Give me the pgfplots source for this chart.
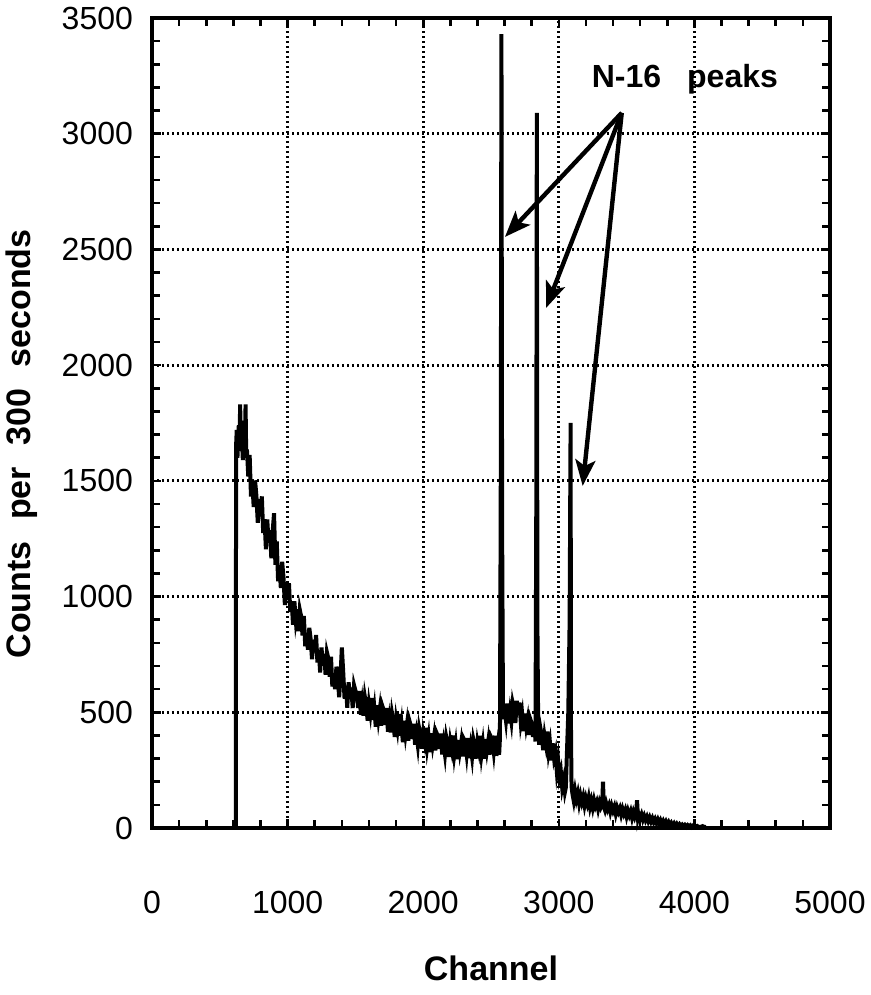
\documentclass[border=0pt]{standalone}
\usepackage{pgfplots}
\pgfplotsset{compat=1.18}
\usepackage{pgfplotstable}
\usepackage{fontspec}
\setmainfont{Liberation Sans}
\usetikzlibrary{arrows.meta}
\pgfplotstableread{
x y
618 0
620 1650
625 1720
630 1600
640 1740
645 1630
650 1830
655 1660
660 1720
670 1590
680 1760
685 1640
690 1830
695 1600
700 1636
710 1519
720 1612
730 1432
740 1490
750 1387
760 1502
770 1435
780 1319
790 1420
800 1346
810 1433
820 1275
830 1334
840 1204
850 1333
860 1233
870 1287
880 1166
890 1283
900 1360
910 1137
920 1238
930 1066
940 1132
950 1037
960 1150
970 1081
980 963
990 1062
1000 986
1010 1058
1020 933
1030 980
1040 878
1050 980
1060 901
1070 945
1080 850
1090 943
1100 914
1110 832
1120 916
1130 785
1140 841
1150 770
1160 865
1170 817
1180 729
1190 813
1200 759
1210 834
1220 715
1230 768
1240 672
1250 780
1260 705
1270 753
1280 662
1290 759
1300 734
1310 654
1320 740
1330 611
1340 669
1350 600
1360 697
1370 651
1380 565
1390 651
1400 780
1410 676
1420 559
1430 614
1440 520
1450 630
1460 557
1470 607
1480 518
1490 617
1500 594
1510 582
1520 519
1530 592
1540 489
1550 539
1560 485
1570 567
1580 532
1590 464
1600 537
1610 497
1620 562
1630 467
1640 514
1650 438
1660 530
1670 471
1680 514
1690 442
1700 525
1710 507
1720 445
1730 518
1740 416
1750 466
1760 413
1770 495
1780 461
1790 393
1800 467
1810 428
1820 493
1830 399
1840 446
1850 371
1860 463
1870 405
1880 448
1890 377
1900 460
1910 439
1920 385
1930 450
1940 360
1950 405
1960 359
1970 432
1980 402
1990 343
2000 409
2010 375
2020 433
2030 351
2040 393
2050 327
2060 409
2070 359
2080 397
2090 335
2100 409
2110 395
2120 342
2130 408
2140 318
2150 365
2160 320
2170 394
2180 365
2190 307
2200 374
2210 341
2220 400
2230 319
2240 362
2250 297
2260 380
2270 331
2280 370
2290 309
2300 384
2310 372
2320 321
2330 389
2340 302
2350 350
2360 307
2370 383
2380 356
2390 300
2400 369
2410 337
2420 398
2430 318
2440 363
2450 299
2460 384
2470 336
2480 377
2490 317
2500 394
2510 382
2520 331
2530 399
2540 312
2550 360
2560 317
2566 390
2572 1500
2577 3430
2582 1300
2588 540
2595 470
2600 512
2610 465
2620 538
2630 452
2640 503
2650 461
2660 540
2670 512
2680 454
2690 550
2700 487
2710 542
2720 454
2730 490
2740 418
2750 494
2760 438
2770 470
2780 402
2790 470
2800 452
2810 394
2820 456
2828 374
2834 1400
2838 3090
2842 900
2848 430
2855 360
2865 430
2875 397
2885 336
2895 399
2905 362
2915 417
2925 330
2935 366
2945 292
2955 366
2965 303
2975 328
2985 248
2995 292
3005 220
3015 245
3025 175
3035 205
3045 155
3052 175
3058 290
3070 500
3080 900
3087 1750
3090 400
3094 180
3100 150
3110 118
3120 160
3130 125
3140 150
3150 108
3160 140
3170 112
3180 135
3190 98
3200 128
3210 105
3220 132
3230 92
3240 118
3250 88
3260 120
3270 95
3280 112
3290 82
3300 110
3310 90
3320 104
3326 200
3332 92
3340 78
3350 105
3360 82
3370 98
3380 70
3390 95
3400 75
3410 92
3420 62
3430 88
3440 70
3450 85
3460 58
3470 82
3480 62
3490 78
3500 50
3510 74
3520 55
3530 72
3540 44
3550 68
3560 48
3570 66
3577 120
3584 45
3590 60
3600 42
3610 58
3620 36
3630 52
3640 34
3650 48
3660 30
3670 45
3680 28
3690 42
3700 25
3710 38
3720 22
3730 36
3740 20
3750 33
3760 18
3770 30
3780 16
3790 28
3800 14
3810 25
3820 12
3830 22
3840 11
3850 20
3860 9
3870 18
3880 8
3890 16
3900 7
3910 14
3920 6
3930 13
3940 5
3950 12
3960 5
3970 11
3980 4
3990 10
4000 4
4020 9
4040 3
4060 8
4080 3
4090 6
}\spectrum
\begin{document}
\begin{tikzpicture}
\path[use as bounding box] (-76pt,-83.5pt) rectangle (359.5pt,414pt);
\begin{axis}[
  at={(0pt,0pt)}, anchor=south west,
  scale only axis, width=339pt, height=405pt,
  xmin=0, xmax=5000, ymin=0, ymax=3500,
  xtick={0,1000,...,5000}, ytick={0,500,...,3500},
  minor x tick num=4, minor y tick num=4,
  tick align=inside, tick pos=both,
  major tick length=4.5pt, minor tick length=4pt,
  every tick/.style={black, line width=1.3pt},
  axis line style={black, line width=1.7pt},
  grid=major,
  major grid style={black, line width=1.4pt, dash pattern=on 1.2pt off 1.3pt},
  /pgf/number format/assume math mode=true,
  /pgf/number format/1000 sep={},
  tick label style={font=\fontsize{16}{19}\selectfont, black},
  yticklabel style={xshift=-6pt},
  xticklabel style={yshift=-28pt},
  clip=false,
]
\addplot[black, line width=2pt, mark=none] table[x=x, y=y] {\spectrum};
\draw[black, line width=2.2pt, -{Stealth[length=13pt,width=10pt,inset=3pt]}] (axis cs:3464,3090) -- (axis cs:2603,2554);
\draw[black, line width=2.2pt, -{Stealth[length=13pt,width=10pt,inset=3pt]}] (axis cs:3464,3090) -- (axis cs:2906,2247);
\draw[black, line width=2.2pt, -{Stealth[length=13pt,width=10pt,inset=3pt]}] (axis cs:3464,3090) -- (axis cs:3176,1478);
\node[font=\bfseries\fontsize{16}{19}\selectfont, anchor=base] at (axis cs:3930,3198) {N-16\hspace{13pt}peaks};
\end{axis}
\node[rotate=90, font=\bfseries\fontsize{17}{20}\selectfont] at (-65pt,192pt) {Counts\hspace{6pt} per\hspace{6pt} 300\hspace{6pt} seconds};
\node[font=\bfseries\fontsize{17}{20}\selectfont] at (169.5pt,-70pt) {Channel};
\end{tikzpicture}
\end{document}
